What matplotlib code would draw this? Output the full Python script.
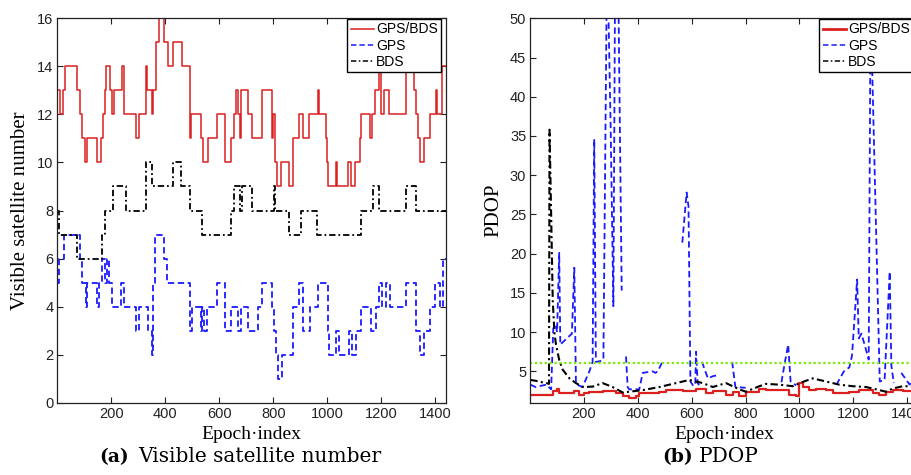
import numpy as np
import matplotlib
matplotlib.use('Agg')
import matplotlib.pyplot as plt

nan = np.nan

# visible satellites, step series given as (start epoch, count)
sat_epoch_all = [1, 10, 22, 27, 74, 84, 90, 103, 110, 148, 161, 169, 177, 182, 195, 204, 210, 239, 247, 293,
                 303, 328, 333, 350, 355, 367, 377, 396, 409, 428, 461, 491, 495, 532, 540, 560, 593, 622, 645, 653,
                 663, 671, 676, 680, 705, 723, 760, 796, 800, 808, 813, 828, 860, 872, 897, 909, 934, 966, 970, 996,
                 1001, 1004, 1033, 1038, 1078, 1088, 1102, 1120, 1127, 1157, 1167, 1178, 1193, 1198, 1212, 1228,
                 1292, 1323, 1330, 1336, 1344, 1358, 1380, 1404, 1408, 1426, 1440]
sat_all = [13, 12, 13, 14, 13, 12, 11, 10, 11, 10, 11, 12, 13, 14, 13, 12, 13, 14, 12, 11,
           12, 14, 13, 12, 13, 15, 16, 15, 14, 15, 14, 11, 12, 11, 10, 11, 12, 10, 11, 12,
           13, 12, 11, 13, 12, 11, 13, 11, 12, 10, 9, 10, 9, 11, 12, 11, 12, 13, 12, 11,
           10, 9, 10, 9, 10, 9, 10, 11, 12, 11, 12, 13, 14, 12, 13, 12,
           14, 13, 12, 11, 10, 11, 12, 13, 12, 14, 14]

sat_epoch_gps = [1, 6, 24, 86, 92, 105, 111, 148, 154, 167, 177, 186, 192, 204, 238, 248, 293, 303, 336, 350,
                 356, 362, 396, 406, 491, 498, 532, 538, 544, 556, 593, 621, 643, 668, 680, 705, 745, 760, 795, 804,
                 810, 816, 832, 872, 897, 911, 936, 965, 1002, 1008, 1033, 1045, 1082, 1092, 1107, 1125, 1163, 1179,
                 1193, 1203, 1218, 1231, 1293, 1329, 1342, 1360, 1379, 1401, 1416, 1428, 1440]
sat_gps = [5, 6, 7, 6, 5, 4, 5, 4, 5, 6, 5, 6, 5, 4, 5, 4, 3, 4, 3, 2,
           5, 7, 6, 5, 3, 4, 3, 4, 3, 4, 5, 3, 4, 3, 4, 3, 4, 5, 4, 3,
           2, 1, 2, 4, 5, 3, 4, 5, 3, 2, 3, 2, 3, 2, 3, 4, 3, 4,
           5, 4, 5, 4, 5, 3, 2, 3, 4, 5, 4, 6, 6]

sat_epoch_bds = [1, 5, 74, 167, 177, 206, 253, 328, 352, 428, 460, 491, 538, 643, 655, 676, 686, 723, 804, 808,
                 860, 903, 964, 1125, 1169, 1193, 1293, 1330, 1440]
sat_bds = [8, 7, 6, 7, 8, 9, 8, 10, 9, 10, 9, 8, 7, 8, 9, 8, 9, 8, 9, 8,
           7, 8, 7, 8, 9, 8, 9, 8, 8]

# PDOP
pdop_epoch_all = [1, 84, 100, 108, 164, 183, 200, 220, 269, 319, 344, 368, 393, 405, 480, 504, 566, 616, 653, 678,
                  727, 752, 777, 801, 851, 876, 962, 987, 1000, 1012, 1037, 1062, 1099, 1123, 1185, 1222, 1272,
                  1297, 1321, 1346, 1383, 1440]
pdop_all = [2.0, 2.5, 2.8, 2.2, 2.5, 2.0, 2.2, 2.4, 2.5, 2.2, 1.9, 1.65, 1.9, 2.3, 2.4, 2.6, 2.55, 2.8, 2.2, 2.5,
            2.0, 2.4, 1.8, 2.4, 2.8, 2.6, 2.0, 1.8, 3.5, 3.0, 2.6, 2.8, 2.6, 2.2, 2.4, 2.6, 2.2,
            2.0, 2.4, 2.6, 2.5, 2.5]

pdop_epoch_gps = [1, 20, 60, 78, 86, 95, 100, 108, 112, 130, 155, 164, 170, 180, 195, 201, 220, 232, 238, 244,
                  260, 272, 284, 290, 299, 309, 315, 328, 340, 341, 356, 362, 368, 405, 418, 455, 465, 474, 492, 493,
                  565, 581, 588, 595, 605, 613, 616, 622, 628, 629, 638, 660, 680, 700, 701, 750, 762, 800, 801,
                  933, 945, 958, 967, 988, 989, 1137, 1165, 1185, 1195, 1214, 1220, 1230, 1245, 1257, 1264,
                  1298, 1316, 1335, 1341, 1350, 1351, 1378, 1409, 1418, 1440]
pdop_gps = [3.3, 3.0, 3.3, 2.7, 10.5, 10.9, 10.0, 20.1, 8.4, 9.0, 9.8, 18.2, 3.7, 3.2, 3.0, 3.5, 5.0, 6.2, 34.6, 6.2,
            6.3, 6.5, 52, 52, 36, 13.3, 52, 52, 15.3, nan, 6.9, 3.0, 2.7, 2.7, 4.8, 5.0, 4.8, 5.0, 6.3, nan,
            21.4, 27.8, 26.0, 3.7, 3.2, 3.2, 7.5, 3.5, 3.2, nan, 6.2, 4.1, 4.4, 4.5, nan, 6.2, 3.0, 2.9, nan,
            3.6, 6.0, 8.4, 3.7, 3.2, nan, 3.3, 5.0, 5.5, 7.0, 16.7, 9.2, 9.8, 8.0, 6.5, 52,
            3.7, 3.9, 17.7, 5.8, 3.5, nan, 4.8, 3.3, 3.9, 4.0]

pdop_epoch_bds = [1, 20, 45, 60, 70, 72, 78, 84, 90, 96, 108, 121, 146, 170, 195, 232, 269, 306, 344, 368,
                  418, 480, 542, 591, 641, 678, 727, 777, 801, 851, 876, 925, 975, 1000, 1049, 1099, 1148, 1198,
                  1247, 1297, 1321, 1346, 1383, 1440]
pdop_bds = [3.9, 3.8, 3.6, 3.5, 3.4, 35.8, 25.0, 14.0, 10.0, 8.4, 6.45, 5.2, 4.1, 3.5, 3.0, 3.05, 3.5, 3.0, 2.3, 2.4,
            2.6, 3.0, 3.5, 3.9, 3.5, 3.0, 3.5, 2.7, 2.4, 3.1, 3.4, 3.3, 3.1, 3.5, 4.1, 3.7, 3.3, 3.1,
            3.0, 2.6, 2.4, 2.8, 3.1, 3.1]

pdop_limit = 6

RED = '#dc1f1f'
BLUE = '#1a1aff'
SANS = 'Liberation Sans'
SERIF = 'Liberation Serif'
CAPTION = 'DejaVu Serif'

plt.rcParams['font.family'] = SANS
W, H = 912, 475
fig = plt.figure(figsize=(W / 100, H / 100), dpi=100)


def style_axes(ax):
    for sp in ax.spines.values():
        sp.set_linewidth(0.9)
        sp.set_color('#222222')
    ax.tick_params(direction='in', top=True, right=True, length=4, width=0.8,
                   labelsize=10.5, colors='#222222', pad=3)
    ax.set_xlim(1, 1440)
    ax.set_xticks([200, 400, 600, 800, 1000, 1200, 1400])


def legend(ax, red_lw):
    h = [plt.Line2D([], [], color=RED, lw=red_lw),
         plt.Line2D([], [], color=BLUE, lw=1.1, dashes=(3.5, 2)),
         plt.Line2D([], [], color='black', lw=1.1, dashes=(3.5, 1.6, 1, 1.6))]
    lg = ax.legend(h, ['GPS/BDS', 'GPS', 'BDS'], loc='upper right', bbox_to_anchor=(0.99, 1.0),
                   borderaxespad=0.05, fancybox=False, framealpha=1, edgecolor='black',
                   fontsize=10, handlelength=1.7, handletextpad=0.15, labelspacing=0.15,
                   borderpad=0.25)
    lg.get_frame().set_linewidth(1.0)


# (a) visible satellite number
ax1 = fig.add_axes([57.5 / W, 1 - 402.7 / H, 388.5 / W, 384.4 / H])
ax1.step(sat_epoch_all, sat_all, where='post', color=RED, lw=1.1)
ax1.step(sat_epoch_gps, sat_gps, where='post', color=BLUE, lw=1.3, dashes=(3.5, 2))
ax1.step(sat_epoch_bds, sat_bds, where='post', color='black', lw=1.3, dashes=(3.5, 1.6, 1, 1.6))
style_axes(ax1)
ax1.set_ylim(0, 16)
ax1.set_yticks(range(0, 17, 2))
ax1.set_ylabel('Visible satellite number', family=SERIF, fontsize=15, labelpad=5)
ax1.set_xlabel('Epoch\u00b7index', family=SERIF, fontsize=14, labelpad=4)
legend(ax1, 1.1)

# (b) PDOP
ax2 = fig.add_axes([530.4 / W, 1 - 402.7 / H, 387.6 / W, 384.4 / H])
ax2.step(pdop_epoch_all, pdop_all, where='post', color=RED, lw=1.6)
ax2.plot(pdop_epoch_gps, pdop_gps, color=BLUE, lw=1.3, dashes=(3.5, 2))
ax2.plot(pdop_epoch_bds, pdop_bds, color='black', lw=1.5, dashes=(3.5, 1.6, 1, 1.6))
ax2.axhline(pdop_limit, color='#77ee00', lw=1.6, ls=(0, (1, 1.2)))
style_axes(ax2)
ax2.set_ylim(1, 50)
ax2.set_yticks(range(5, 51, 5))
ax2.set_ylabel('PDOP', family=SERIF, fontsize=15, labelpad=5)
ax2.set_xlabel('Epoch\u00b7index', family=SERIF, fontsize=14, labelpad=4)
legend(ax2, 2.0)

# sub-figure captions
cy = 1 - 462 / H
fig.text(99 / W, cy, '(a)', family=CAPTION, fontsize=13.5, fontweight='bold', va='baseline')
fig.text(138 / W, cy, 'Visible satellite number', family=CAPTION, fontsize=14.5, va='baseline')
fig.text(662 / W, cy, '(b)', family=CAPTION, fontsize=13.5, fontweight='bold', va='baseline')
fig.text(699 / W, cy, 'PDOP', family=CAPTION, fontsize=14.5, va='baseline')

fig.savefig('out.png', dpi=100)
